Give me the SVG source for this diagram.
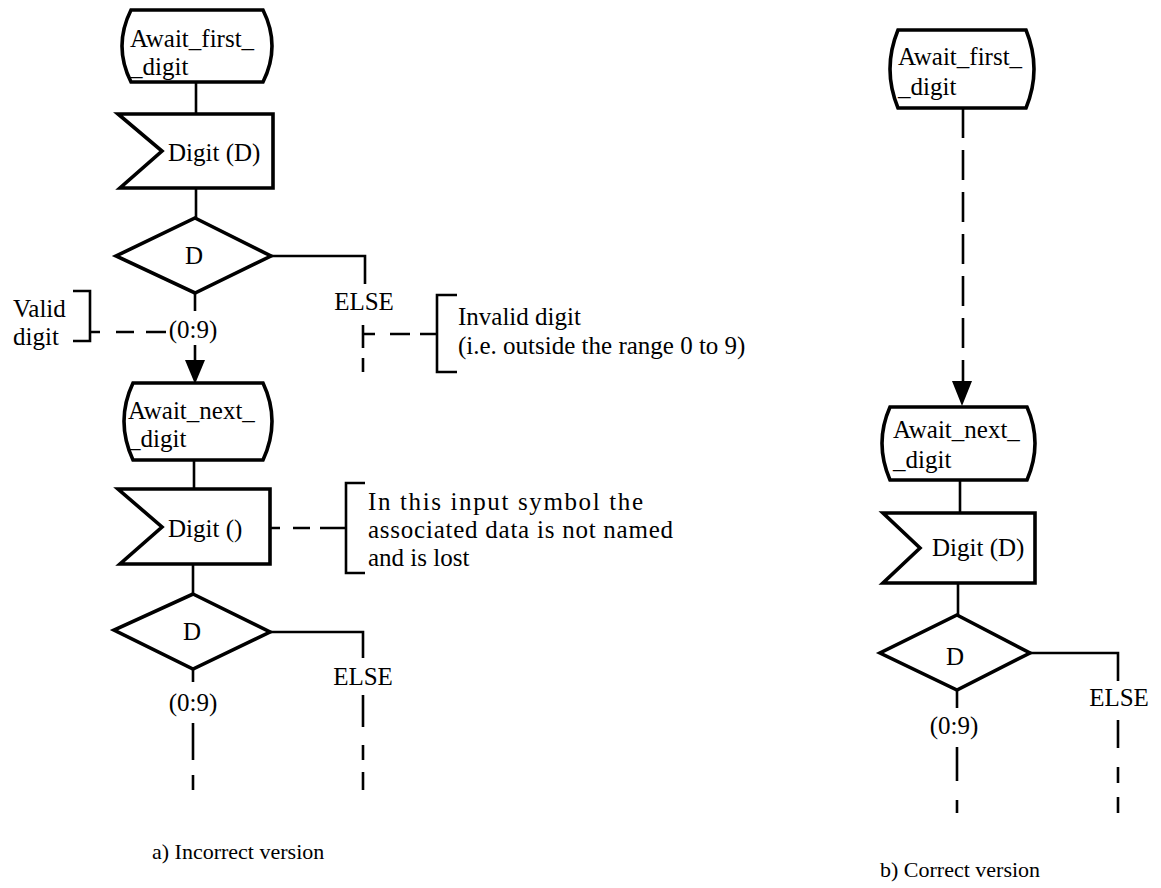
<svg xmlns="http://www.w3.org/2000/svg" width="1161" height="888" viewBox="0 0 1161 888">
  <style>
    .shape { fill: none; stroke: #000; stroke-width: 3.6; stroke-linejoin: miter; }
    .ln { fill: none; stroke: #000; stroke-width: 2.6; }
    .dash { stroke-dasharray: 30 12; }
    .head { fill: #000; stroke: none; }
    text { font-family: "Liberation Serif", "Times New Roman", serif; font-size: 25px; fill: #000; }
    .mid { text-anchor: middle; }
    .cap { font-size: 22px; }
  </style>
  <rect width="1161" height="888" fill="#fff"/>

  <!-- ===== a) Incorrect version ===== -->
  <g id="a-state-await-first">
    <path class="shape" d="M131,10 L263,10 Q281,46 263,82 L131,82 Q113,46 131,10 Z"/>
    <text x="130" y="47">Await_first_</text>
    <text x="130" y="75">_digit</text>
  </g>
  <g id="a-input-digit-d">
    <path class="shape" d="M118,114 L273,114 L273,188 L120,188 L162,151 Z"/>
    <text x="168" y="161">Digit (D)</text>
  </g>
  <g id="a-decision-1">
    <path class="shape" d="M195,218 L271,256 L195,293 L116,256 Z"/>
    <text class="mid" x="194" y="264">D</text>
  </g>
  <g id="a-state-await-next">
    <path class="shape" d="M133,383 L263,383 Q281,421 263,460 L133,460 Q115,421 133,383 Z"/>
    <text x="128" y="419">Await_next_</text>
    <text x="128" y="447">_digit</text>
  </g>
  <g id="a-input-digit-empty">
    <path class="shape" d="M118,489 L270,489 L270,564 L120,564 L162,527 Z"/>
    <text x="168" y="537">Digit ()</text>
  </g>
  <g id="a-decision-2">
    <path class="shape" d="M193,594 L270,632 L193,669 L114,630 Z"/>
    <text class="mid" x="192" y="640">D</text>
  </g>

  <!-- comments attached to the incorrect version -->
  <g id="a-note-valid">
    <path class="ln" d="M73,291 H90 V341 H73"/>
    <text x="13" y="317">Valid</text>
    <text x="13" y="345">digit</text>
  </g>
  <g id="a-note-invalid">
    <path class="ln" d="M457,295 H437 V372 H457"/>
    <text x="458" y="325">Invalid digit</text>
    <text x="458" y="354">(i.e. outside the range 0 to 9)</text>
  </g>
  <g id="a-note-lost">
    <path class="ln" d="M365,483 H346 V573 H365"/>
    <text x="368" y="510" textLength="275" lengthAdjust="spacing">In this input symbol the</text>
    <text x="368" y="538" textLength="305" lengthAdjust="spacing">associated data is not named</text>
    <text x="368" y="566">and is lost</text>
  </g>

  <g id="a-connectors">
    <path class="ln" d="M196,82 V114"/>
    <path class="ln" d="M196,188 V218"/>
    <path class="ln" d="M271,256 H365 V284"/>
    <text class="mid" x="364" y="310">ELSE</text>
    <path class="ln" d="M195,293 V311"/>
    <text class="mid" x="193" y="338">(0:9)</text>
    <path class="ln" d="M195,345 V362"/>
    <polygon class="head" points="185,360 205,360 195,384"/>
    <!-- ELSE continuation with link to the invalid-digit comment -->
    <path class="ln" d="M363,325 V348 M363,334 H375 M390,334 H410 M420,334 H437 M363,358 V372"/>
    <!-- link to the valid-digit comment -->
    <path class="ln" d="M90,332 H100 M116,332 H134 M146,332 H166"/>
    <path class="ln" d="M194,460 V489"/>
    <!-- link to the lost-data comment -->
    <path class="ln" d="M270,528 H280 M293,528 H310 M320,528 H346"/>
    <path class="ln" d="M193,564 V594"/>
    <path class="ln" d="M270,632 H363 V658"/>
    <text class="mid" x="363" y="685">ELSE</text>
    <path class="ln" d="M363,695 V727 M363,745 V760 M363,772 V790"/>
    <path class="ln" d="M193,669 V682"/>
    <text class="mid" x="193" y="711">(0:9)</text>
    <path class="ln" d="M193,723 V760 M193,775 V790"/>
  </g>
  <text class="cap" x="152" y="859">a) Incorrect version</text>

  <!-- ===== b) Correct version ===== -->
  <g id="b-state-await-first">
    <path class="shape" d="M898,30 L1026,30 Q1042,69 1026,108 L898,108 Q882,69 898,30 Z"/>
    <text x="898" y="65">Await_first_</text>
    <text x="898" y="95">_digit</text>
  </g>
  <g id="b-state-await-next">
    <path class="shape" d="M890,407 L1027,407 Q1043,443 1027,480 L890,480 Q874,443 890,407 Z"/>
    <text x="893" y="438">Await_next_</text>
    <text x="893" y="468">_digit</text>
  </g>
  <g id="b-input-digit-d">
    <path class="shape" d="M883,513 L1035,513 L1035,583 L883,583 L920,548 Z"/>
    <text x="932" y="556">Digit (D)</text>
  </g>
  <g id="b-decision">
    <path class="shape" d="M957,615 L1030,653 L957,690 L880,653 Z"/>
    <text class="mid" x="955" y="665">D</text>
  </g>
  <g id="b-connectors">
    <path class="ln dash" d="M963,108 V382"/>
    <polygon class="head" points="952,381 972,381 962,406"/>
    <path class="ln" d="M960,480 V513"/>
    <path class="ln" d="M958,583 V615"/>
    <path class="ln" d="M1030,653 H1118 V681"/>
    <text class="mid" x="1119" y="706">ELSE</text>
    <path class="ln" d="M1118,720 V748 M1118,767 V783 M1118,797 V813"/>
    <path class="ln" d="M957,690 V708"/>
    <text class="mid" x="954" y="734">(0:9)</text>
    <path class="ln" d="M957,747 V781 M957,800 V813"/>
  </g>
  <text class="cap" x="880" y="877">b) Correct version</text>
</svg>
